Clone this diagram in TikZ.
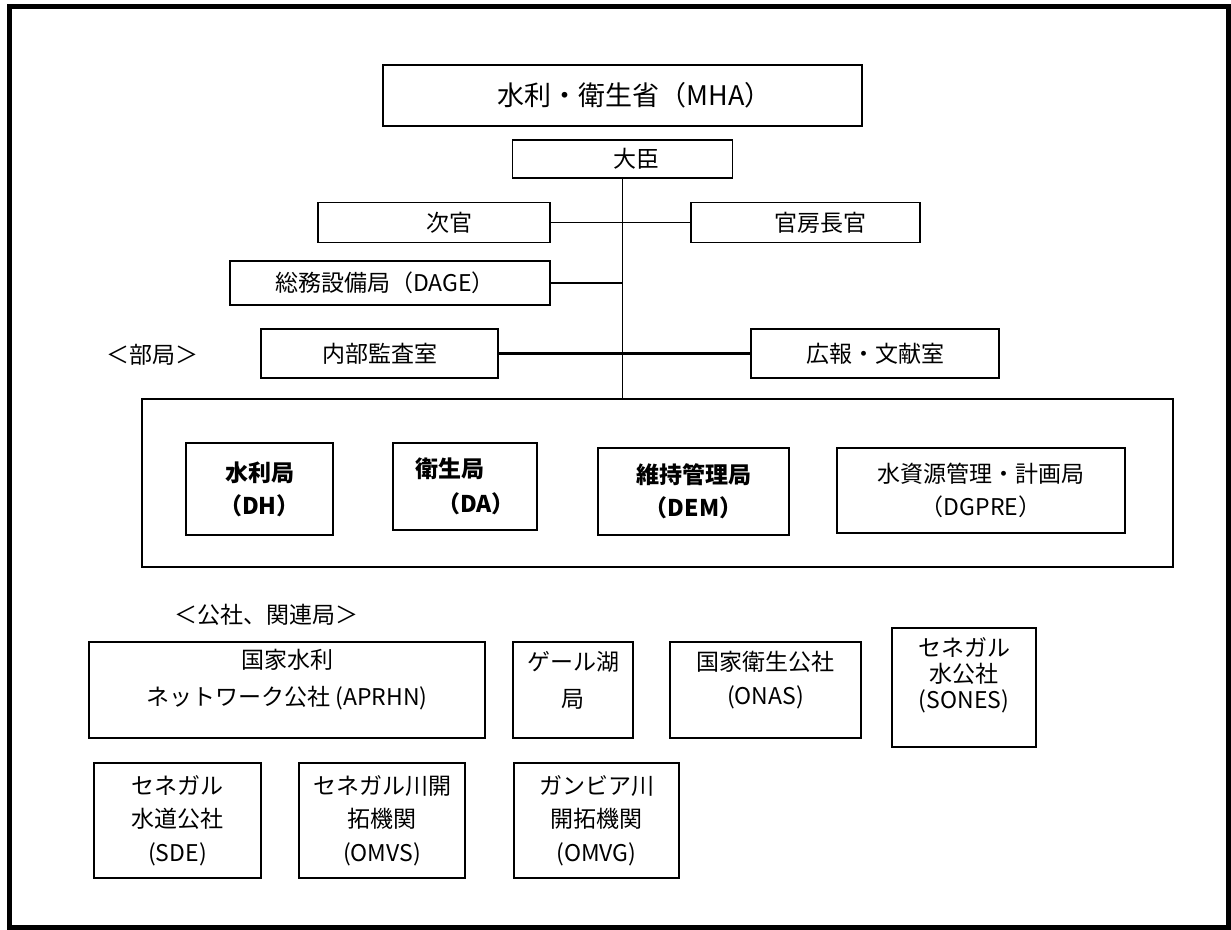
\documentclass[tikz,border=0pt]{standalone}
\usepackage{fontspec}
\setmainfont{Noto Sans CJK JP}

\begin{document}
\begin{tikzpicture}[x=1pt, y=-1pt,
		every node/.style={font=\fontsize{23}{33}\selectfont},
		box/.style={draw, line width=1.6pt, inner sep=0pt, align=center},
		txt/.style={inner sep=0pt, align=center},
		bold/.style={font=\bfseries\fontsize{23}{33}\selectfont},
		link/.style={line width=1.3pt},
		wide link/.style={line width=2.7pt}]
				\useasboundingbox (0,0) rectangle (1231,929);
				\draw[line width=5pt] (9.5,6) rectangle (1228.5,927);
				% ministry and cabinet
				\node[box, minimum width=479pt, minimum height=61pt, font=\fontsize{27}{30}\selectfont] (mha) at (622.5,95.5) {\hspace*{24pt}水利・衛生省（MHA）};
				\node[box, minimum width=220pt, minimum height=38pt] (minister) at (622.5,159) {\hspace*{28pt}大臣};
				\node[box, minimum width=232pt, minimum height=40pt] (vice) at (434,222.5) {\hspace*{30pt}次官};
				\node[box, minimum width=229pt, minimum height=40pt] (chief) at (805.5,222.5) {\hspace*{30pt}官房長官};
				\node[box, minimum width=320pt, minimum height=44pt] (dage) at (390,283) {総務設備局（DAGE）\hspace*{10pt}};
				\node[box, minimum width=237pt, minimum height=49pt] (audit) at (379.5,353.5) {内部監査室};
				\node[box, minimum width=248pt, minimum height=49pt] (pr) at (875,353.5) {広報・文献室};
				\node (bureau label) at (152,355) {＜部局＞};
				% departments
				\node[box, minimum width=1031pt, minimum height=168pt] (depts) at (657.5,483) {};
				\node[box, bold, minimum width=147pt, minimum height=92pt] (dh) at (259.5,489) {水利局\\（DH）};
				\node[box, font=\bfseries\fontsize{23}{35}\selectfont, align=left, minimum width=144pt, minimum height=87pt] (da) at (465,486.5) {衛生局\\\hspace*{22pt}（DA）};
				\node[box, bold, minimum width=191pt, minimum height=87pt] (dem) at (693.5,491.5) {維持管理局\\（DEM）};
				\node[box, minimum width=288pt, minimum height=85pt] (dgpre) at (981,490.5) {水資源管理・計画局\\（DGPRE）};
				\draw[link] (minister.south) -- (minister.south |- depts.north);
				\draw[link] (vice.east) -- (chief.west);
				\draw[link] (dage.east) -- (dage.east -| minister.south);
				\draw[wide link] (audit.east) -- (pr.west);
				% public corporations
				\node (corp label) at (266,615) {＜公社、関連局＞};
				\node[box, minimum width=396pt, minimum height=96pt] (aprhn) at (287,690) {};
				\node[txt, font=\fontsize{23}{37}\selectfont] (aprhn text) at (287,680) {国家水利\\ネットワーク公社 (APRHN)};
				\node[box, minimum width=120pt, minimum height=96pt] (gale) at (573,690) {};
				\node[txt, font=\fontsize{23}{37}\selectfont] (gale text) at (573,680) {ゲール湖\\局};
				\node[box, minimum width=191pt, minimum height=96pt] (onas) at (765.5,690) {};
				\node[txt, font=\fontsize{23}{34}\selectfont] (onas text) at (765.5,680) {国家衛生公社\\(ONAS)};
				\node[box, minimum width=144pt, minimum height=119pt] (sones) at (964,687.5) {};
				\node[txt, font=\fontsize{23}{26}\selectfont] (sones text) at (964,675) {セネガル\\水公社\\(SONES)};
				\node[box, font=\fontsize{23}{33.5}\selectfont, minimum width=167pt, minimum height=115pt] (sde) at (177.5,820.5) {セネガル\\水道公社\\(SDE)};
				\node[box, font=\fontsize{23}{33.5}\selectfont, minimum width=166pt, minimum height=115pt] (omvs) at (382,820.5) {セネガル川開\\拓機関\\(OMVS)};
				\node[box, font=\fontsize{23}{33.5}\selectfont, minimum width=165pt, minimum height=115pt] (omvg) at (596.5,820.5) {ガンビア川\\開拓機関\\(OMVG)};
			\end{tikzpicture}
\end{document}
